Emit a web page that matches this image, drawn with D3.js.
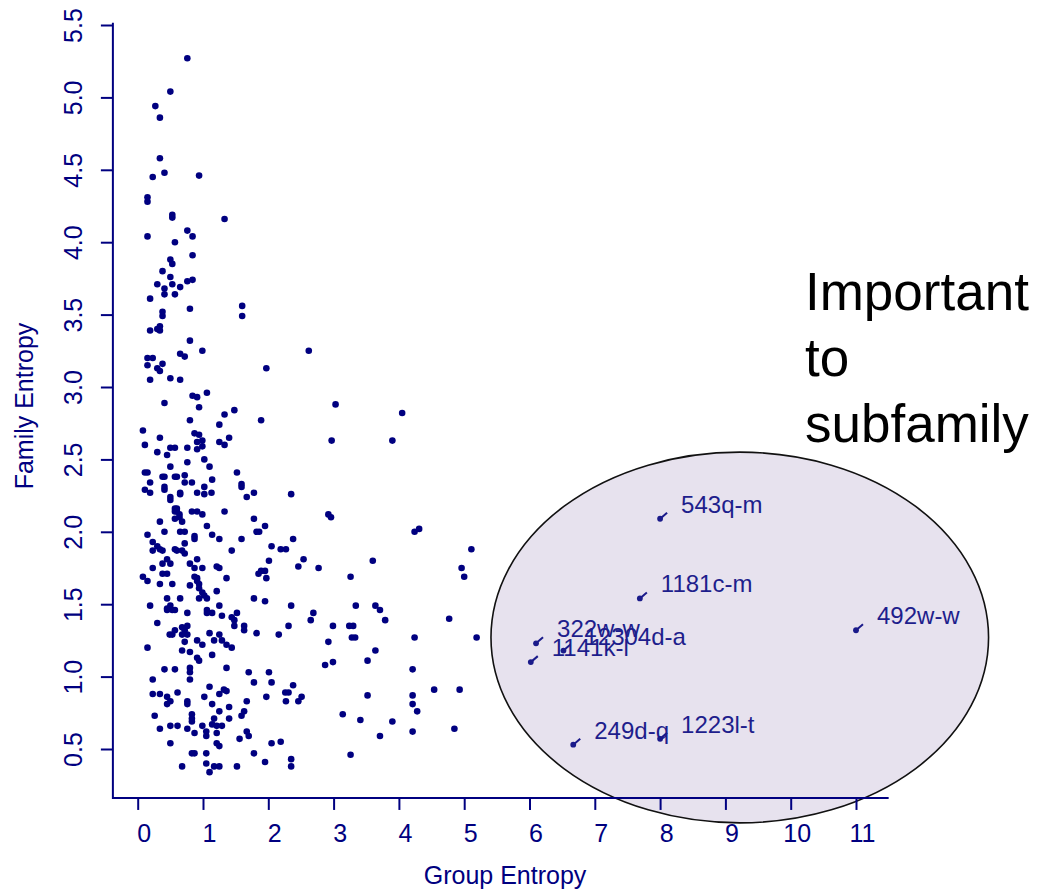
<!DOCTYPE html>
<html>
<head>
<meta charset="utf-8">
<script src="https://cdn.jsdelivr.net/npm/d3@7"></script>
<style>
  body { margin: 0; background: #fff; }
  text { font-family: "Liberation Sans", Arial, sans-serif; }
</style>
</head>
<body>
<div id="chart"></div>
<script>
// [group entropy, family entropy]
var highFamily = [[0.76,5.27],[0.50,5.04],[0.27,4.94],[0.34,4.86],[0.34,4.58],[0.41,4.48],[0.23,4.45],[0.94,4.46],[0.15,4.31],[0.15,4.28],[0.53,4.19],[0.53,4.17],[1.33,4.16],[0.76,4.08],[0.15,4.04],[0.84,4.04],[0.57,4.00],[0.84,3.91],[0.50,3.88],[0.53,3.85],[0.38,3.80],[0.50,3.76],[0.84,3.74],[0.76,3.73],[0.30,3.71],[0.53,3.71],[0.65,3.69],[0.41,3.68],[0.41,3.64],[0.57,3.64],[0.19,3.61],[1.60,3.56],[1.60,3.49],[0.80,3.54],[0.38,3.52],[0.38,3.49],[0.34,3.42],[0.30,3.40],[0.19,3.39],[0.34,3.39],[0.80,3.32],[2.62,3.25],[0.99,3.25],[0.65,3.23],[0.72,3.21],[0.15,3.20],[0.23,3.20],[0.38,3.16],[0.15,3.15],[0.30,3.13],[0.34,3.11],[1.97,3.13],[0.50,3.06],[0.19,3.05],[0.65,3.05],[1.06,2.96],[0.84,2.94],[0.91,2.93],[0.41,2.89],[3.03,2.88],[0.94,2.86],[1.48,2.84],[1.33,2.81],[1.89,2.77],[0.80,2.77],[1.25,2.74]];

var midFamily = [[0.08,2.70],[0.34,2.65],[1.25,2.62],[1.33,2.60],[1.40,2.65],[0.87,2.68],[0.94,2.67],[0.91,2.62],[0.99,2.63],[0.91,2.57],[0.99,2.59],[0.76,2.58],[0.11,2.60],[0.50,2.58],[0.57,2.58],[0.30,2.55],[0.45,2.53],[1.02,2.50],[0.76,2.48],[1.10,2.45],[0.50,2.45],
  [0.11,2.41],[0.15,2.41],[1.52,2.41],[0.72,2.39],[0.38,2.38],[0.41,2.38],[0.57,2.38],[0.60,2.38],[1.14,2.36],[0.19,2.34],[0.72,2.34],[0.83,2.34],[1.59,2.33],[1.59,2.31],[0.41,2.31],[0.41,2.29],[0.11,2.29],[0.19,2.27],[1.02,2.31],[0.91,2.27],[1.13,2.27],[1.78,2.27],[0.65,2.27],[0.65,2.26],[1.02,2.26],[2.35,2.26],[0.50,2.24],[1.67,2.24],[0.50,2.22],
  [0.57,2.16],[0.60,2.16],[0.57,2.14],[0.60,2.14],[0.83,2.14],[0.91,2.14],[1.33,2.14],[0.64,2.12],[0.99,2.12],[0.64,2.10],[2.92,2.12],[2.96,2.10],[0.57,2.09],[1.78,2.09],[0.34,2.07],[0.68,2.07],[1.06,2.04],[1.95,2.04],[1.82,2.00],[1.86,2.00],[0.41,2.00],[0.65,2.00],[0.72,2.00],[0.15,1.98],[1.14,1.98],
  [0.87,1.97],[0.87,1.95],[1.25,1.95],[1.59,1.95],[2.38,1.95],[0.23,1.93],[0.72,1.92],[0.30,1.90],[0.34,1.88],[2.05,1.90],[2.19,1.88],[2.27,1.88],[0.57,1.88],[0.60,1.87],[0.23,1.87],[0.38,1.87],[0.68,1.87],[1.44,1.87],[0.72,1.85],
  [0.45,1.81],[0.91,1.81],[2.54,1.81],[0.38,1.78],[0.50,1.78],[0.80,1.78],[2.01,1.80],[2.46,1.76],[2.77,1.75],[0.23,1.75],[0.87,1.75],[0.99,1.75],[1.21,1.76],[1.25,1.75],[1.89,1.73],[1.95,1.73],[1.85,1.71],[0.38,1.71],[0.45,1.71],[0.87,1.69],[0.08,1.69],[1.36,1.68],[1.97,1.68],[0.91,1.68],[0.15,1.66],[0.91,1.66],[0.34,1.64],[0.53,1.64],[0.94,1.64],[0.80,1.63],[0.94,1.61]];

var lowFamily = [[1.21,1.59],[0.99,1.58],[1.02,1.56],[0.94,1.54],[1.06,1.54],[0.45,1.54],[0.65,1.54],[1.78,1.54],[1.95,1.52],[0.19,1.49],[1.25,1.49],[2.35,1.49],[0.45,1.47],[0.50,1.49],[0.53,1.46],[0.57,1.46],[0.45,1.46],[1.06,1.46],[1.06,1.44],[1.14,1.44],[0.76,1.44],[1.52,1.44],[2.69,1.44],[1.29,1.42],[1.44,1.41],[2.65,1.39],[1.48,1.39],[0.30,1.37],[1.48,1.35],[1.63,1.35],[2.31,1.35],[2.99,1.35],[0.76,1.35],
  [0.68,1.34],[0.57,1.32],[1.63,1.32],[0.72,1.32],[1.10,1.30],[1.82,1.30],[0.68,1.29],[0.53,1.29],[0.49,1.29],[0.76,1.29],[2.16,1.29],[1.25,1.29],[1.17,1.25],[1.29,1.25],[0.91,1.25],[0.72,1.24],[0.99,1.22],[1.36,1.22],[2.92,1.24],[0.15,1.20],[1.44,1.20],[0.68,1.18],[0.80,1.17],[1.14,1.15],[0.91,1.13],[0.94,1.11],
  [1.36,1.06],[0.80,1.06],[0.41,1.05],[0.57,1.05],[0.80,1.03],[1.70,1.03],[2.01,1.03],[2.87,1.08],[2.99,1.10],[0.80,0.98],[0.23,0.98],[1.78,0.96],[2.05,0.96],[2.38,0.94],[1.10,0.93],
  [1.32,0.91],[1.36,0.90],[0.23,0.88],[0.34,0.88],[0.61,0.89],[1.25,0.88],[2.26,0.89],[2.31,0.89],[0.45,0.86],[1.02,0.86],[1.97,0.86],[2.51,0.86],[0.50,0.83],[0.45,0.81],[0.76,0.83],[0.76,0.81],[1.67,0.83],[1.14,0.81],[2.27,0.83],[2.46,0.83],[1.40,0.79],
  [1.63,0.76],[1.25,0.76],[0.83,0.74],[0.26,0.73],[1.59,0.73],[0.83,0.71],[1.40,0.71],[1.17,0.71],[0.83,0.69],[1.14,0.67],[0.99,0.66],[0.50,0.66],[0.61,0.66],[1.21,0.66],[1.29,0.66],[0.34,0.64],[0.76,0.64],[1.05,0.62],[1.67,0.62],[0.87,0.61],[1.21,0.61],[1.05,0.59],[1.70,0.59],[1.56,0.57],[2.19,0.55],[0.50,0.54],[1.21,0.54],[2.05,0.54],[1.25,0.52],
  [0.83,0.47],[0.87,0.47],[1.05,0.47],[1.78,0.47],[2.35,0.43],[1.95,0.41],[1.05,0.40],[2.35,0.38],[0.68,0.38],[1.17,0.38],[1.25,0.38],[1.52,0.38],[1.10,0.34]];

var outerPoints = [[3.60,1.80],[3.26,1.69],[4.24,2.00],[4.31,2.02],[5.11,1.88],[4.96,1.75],[5.00,1.69],[3.34,1.49],[3.64,1.49],[3.71,1.46],[3.79,1.39],[4.77,1.40],[3.24,1.35],[3.30,1.35],[3.28,1.27],[3.33,1.27],[4.24,1.27],[5.19,1.27],[3.64,1.18],[3.52,1.11],[4.21,1.05],[3.52,0.87],[4.21,0.87],[4.54,0.91],[4.93,0.91],[4.21,0.81],[4.28,0.76],[3.14,0.74],[3.41,0.70],[3.90,0.69],[3.71,0.59],[4.21,0.62],[4.85,0.64],[3.26,0.46],[4.05,2.82],[2.97,2.63],[3.90,2.63]];

// labelled points inside the ellipse
var labelNames  = ["543q-m", "1181c-m", "492w-w", "322w-w", "12304d-a", "1141k-l", "249d-q", "1223l-t"];
var labelGroup  = [8.00, 7.69, 11.00, 6.10, 6.52, 6.02, 6.67, 8.00];
var labelFamily = [2.09, 1.54, 1.32, 1.23, 1.18, 1.10, 0.53, 0.57];

var xTicks = [0, 1, 2, 3, 4, 5, 6, 7, 8, 9, 10, 11];
var yTicks = [0.5, 1.0, 1.5, 2.0, 2.5, 3.0, 3.5, 4.0, 4.5, 5.0, 5.5];
var noteLines = ["Important", "to", "subfamily"];

var width = 1043, height = 894;
var navy = "#000080";

var x = d3.scaleLinear().domain([0, 11]).range([137.7, 856]);
var y = d3.scaleLinear().domain([0.5, 5.5]).range([749, 25]);

var xlim = [-0.38, 11.5], ylim = [0.162, 5.515];

var svg = d3.select("#chart").append("svg")
    .attr("width", width)
    .attr("height", height)
    .style("background", "#fff");

// highlight ellipse
var ellCenter = [9.22, 1.27], ellRadius = [3.81, 1.28];
svg.append("ellipse")
    .attr("cx", x(ellCenter[0]))
    .attr("cy", y(ellCenter[1]))
    .attr("rx", x(ellRadius[0]) - x(0))
    .attr("ry", y(0) - y(ellRadius[1]))
    .attr("fill", "#e7e2ee")
    .attr("stroke", "#111")
    .attr("stroke-width", 1.6);

// L-shaped box
svg.append("path")
    .attr("d", "M" + x(xlim[0]) + "," + y(ylim[1]) + "V" + y(ylim[0]) + "H" + x(xlim[1]))
    .attr("fill", "none")
    .attr("stroke", navy)
    .attr("stroke-width", 2);

var xAxis = svg.append("g")
    .attr("transform", "translate(0," + y(ylim[0]) + ")")
    .call(d3.axisBottom(x).tickValues(xTicks).tickSize(12).tickPadding(14).tickFormat(d3.format("d")));
xAxis.select(".domain").remove();
xAxis.selectAll("line").attr("stroke", navy).attr("stroke-width", 2);
xAxis.selectAll("text")
    .attr("fill", navy)
    .attr("font-size", 25)
    .attr("dx", 6)
    .style("font-family", "'Liberation Sans', Arial, sans-serif");

var yAxis = svg.append("g")
    .attr("transform", "translate(" + x(xlim[0]) + ",0)")
    .call(d3.axisLeft(y).tickValues(yTicks).tickSize(12).tickFormat(d3.format(".1f")));
yAxis.select(".domain").remove();
yAxis.selectAll("line").attr("stroke", navy).attr("stroke-width", 2);
yAxis.selectAll("text")
    .attr("fill", navy)
    .attr("font-size", 25)
    .attr("transform", "rotate(-90)")
    .attr("x", 0)
    .attr("y", -31)
    .attr("dy", 0)
    .attr("text-anchor", "middle")
    .style("font-family", "'Liberation Sans', Arial, sans-serif");

// axis titles
svg.append("text")
    .attr("x", 505)
    .attr("y", 884)
    .attr("text-anchor", "middle")
    .attr("font-size", 25)
    .attr("fill", navy)
    .text("Group Entropy");

svg.append("text")
    .attr("transform", "translate(33,406) rotate(-90)")
    .attr("text-anchor", "middle")
    .attr("font-size", 25)
    .attr("fill", navy)
    .text("Family Entropy");

// scatter points
var allPoints = highFamily.concat(midFamily, lowFamily, outerPoints);
svg.append("g").selectAll("circle")
    .data(allPoints)
    .enter()
    .append("circle")
    .attr("cx", function(d) { return x(d[0]); })
    .attr("cy", function(d) { return y(d[1]); })
    .attr("r", 3.3)
    .attr("fill", navy);

// labelled points
var labelled = labelNames.map(function(n, i) {
    return {name: n, g: labelGroup[i], f: labelFamily[i]};
});
var lab = svg.append("g").selectAll("g")
    .data(labelled)
    .enter()
    .append("g")
    .attr("transform", function(d) { return "translate(" + x(d.g) + "," + y(d.f) + ")"; });

lab.append("line")
    .attr("x1", 0).attr("y1", 0)
    .attr("x2", 7).attr("y2", -6)
    .attr("stroke", "#1a1a8a")
    .attr("stroke-width", 2);

lab.append("circle")
    .attr("r", 2.9)
    .attr("fill", "#1a1a8a");

lab.append("text")
    .attr("x", 21)
    .attr("y", -6)
    .attr("font-size", 24)
    .attr("fill", "#1e1e8c")
    .text(function(d) { return d.name; });

// annotation
svg.append("g").selectAll("text")
    .data(noteLines)
    .enter()
    .append("text")
    .attr("x", 805)
    .attr("y", function(d, i) { return 310 + i * 66; })
    .attr("font-size", 53)
    .attr("fill", "#000")
    .text(function(d) { return d; });
</script>
</body>
</html>
